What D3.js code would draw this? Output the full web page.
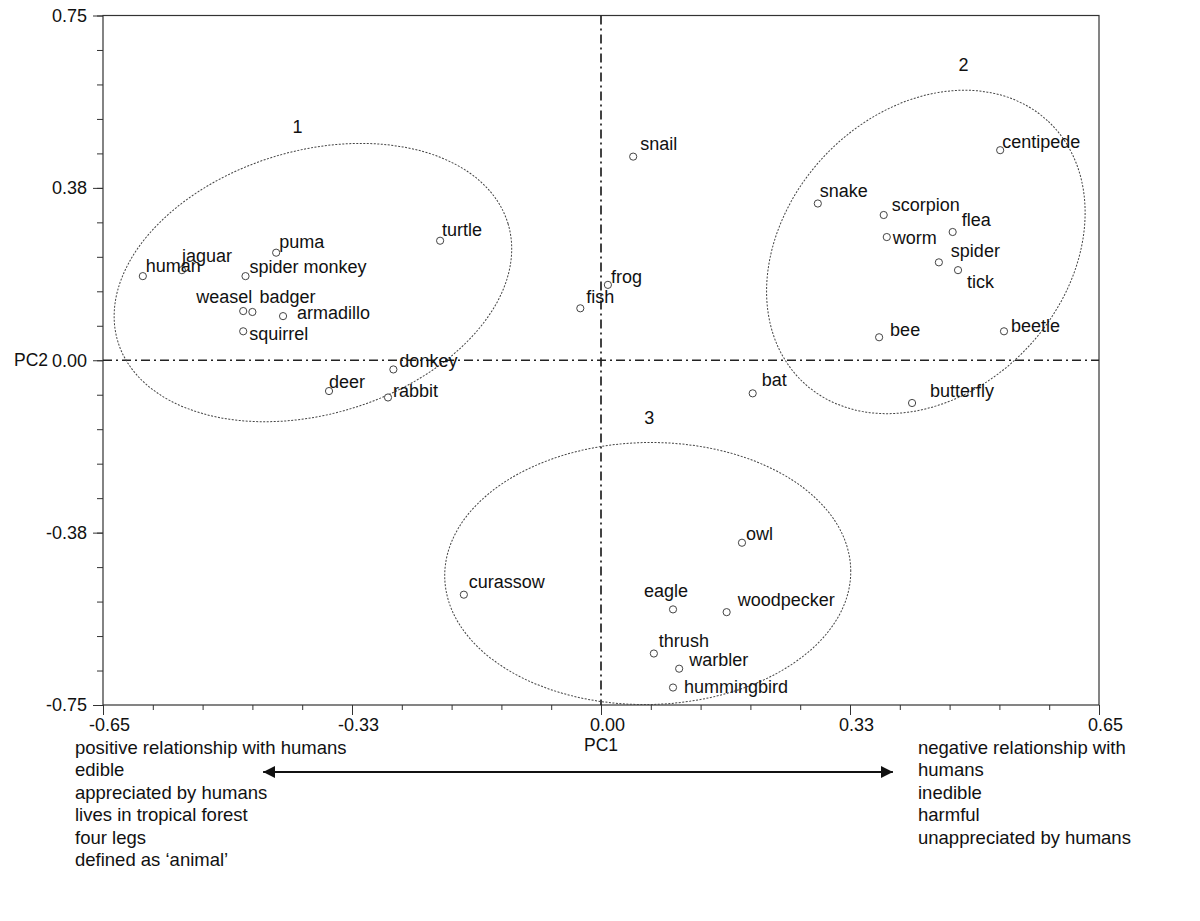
<!DOCTYPE html>
<html>
<head>
<meta charset="utf-8">
<script src="https://cdn.jsdelivr.net/npm/d3@7"></script>
<style>
  body { margin: 0; background: #fff; }
  text { font-family: "Liberation Sans", Arial, sans-serif; fill: #111; }
</style>
</head>
<body>
<div id="chart"></div>
<script>
// animals and their PCA scores
var animals = ["human","jaguar","puma","spider monkey","weasel","badger","armadillo","squirrel",
  "donkey","deer","rabbit","turtle","snail","frog","fish","centipede","snake","scorpion","worm",
  "flea","spider","tick","bee","beetle","butterfly","bat","curassow","owl","eagle","woodpecker",
  "thrush","warbler","hummingbird"];
var pc1 = [-0.598,-0.547,-0.424,-0.464,-0.467,-0.455,-0.415,-0.467,
  -0.271,-0.355,-0.278,-0.210,0.042,0.009,-0.027,0.521,0.283,0.369,0.373,
  0.459,0.441,0.466,0.363,0.526,0.406,0.198,-0.179,0.184,0.094,0.164,
  0.069,0.102,0.094];
var pc2 = [0.183,0.196,0.234,0.183,0.107,0.105,0.096,0.063,
  -0.020,-0.067,-0.081,0.260,0.443,0.164,0.113,0.457,0.341,0.316,0.268,
  0.279,0.213,0.196,0.050,0.063,-0.093,-0.072,-0.510,-0.397,-0.542,-0.548,
  -0.638,-0.671,-0.712];

var xTickValues = [-0.65,-0.325,0,0.325,0.65];
var xTickLabels = ["-0.65","-0.33","0.00","0.33","0.65"];
var yTickValues = [0.75,0.375,0,-0.375,-0.75];
var yTickLabels = ["0.75","0.38","0.00","-0.38","-0.75"];

// cluster ellipses: centre and radii in data units, tilt in degrees
var clusterNames = ["1","2","3"];
var clusterCx = [-0.376,0.424,0.061];
var clusterCy = [0.169,0.2356,-0.464];
var clusterRx = [0.266,0.2336,0.265];
var clusterRy = [0.2865,0.3037,0.285];
var clusterTilt = [-16.8,-46.8,-1];
var clusterLabelX = [-0.396,0.473,0.063];
var clusterLabelY = [0.494,0.629,-0.138];

var leftNotes = ["positive relationship with humans","edible","appreciated by humans",
  "lives in tropical forest","four legs","defined as \u2018animal\u2019"];
var rightNotes = ["negative relationship with","humans","inedible","harmful","unappreciated by humans"];

// label nudges (px) from the point
var nudge = {
  "human":[3,-4],"jaguar":[0,-8],"puma":[3,-5],"spider monkey":[4,-3],"weasel":[9,-8,"end"],
  "badger":[7,-9],"armadillo":[14,3],"squirrel":[6,9],"donkey":[6,-2],"deer":[0,-3],
  "rabbit":[5,0],"turtle":[2,-5],"snail":[7,-7],"frog":[3,-2],"fish":[6,-5],
  "centipede":[2,-2],"snake":[2,-7],"scorpion":[8,-4],"worm":[6,7],"flea":[9,-6],
  "spider":[12,-5],"tick":[9,18],"bee":[11,-1],"beetle":[7,1],"butterfly":[18,-6],
  "bat":[9,-7],"curassow":[5,-7],"owl":[4,-3],"eagle":[-29,-12],"woodpecker":[11,-6],
  "thrush":[5,-7],"warbler":[10,-3],"hummingbird":[11,5]
};

var width = 1200, height = 921;
var mLeft = 103, mRight = 1099, mTop = 15.5, mBottom = 705;

var svg = d3.select("#chart").append("svg")
  .attr("width", width).attr("height", height);

var x = d3.scaleLinear().domain([-0.65, 0.65]).range([mLeft, mRight]);
var y = d3.scaleLinear().domain([-0.75, 0.75]).range([mBottom, mTop]);

var minorX = d3.range(21).map(function(i){ return -0.65 + i*0.065; });
var minorY = d3.range(21).map(function(i){ return -0.75 + i*0.075; });

// minor ticks
svg.append("g").attr("transform","translate(0,"+mBottom+")")
  .call(d3.axisBottom(x).tickValues(minorX).tickSize(5).tickFormat(""))
  .call(function(g){ g.select(".domain").remove(); });
svg.append("g").attr("transform","translate("+mLeft+",0)")
  .call(d3.axisLeft(y).tickValues(minorY).tickSize(6).tickFormat(""))
  .call(function(g){ g.select(".domain").remove(); });

// major ticks
var xAxis = svg.append("g").attr("transform","translate(0,"+mBottom+")")
  .call(d3.axisBottom(x).tickValues(xTickValues).tickSize(10).tickPadding(3)
    .tickFormat(function(d,i){ return xTickLabels[i]; }));
xAxis.select(".domain").remove();
xAxis.selectAll("text").attr("dx", 6).style("font-size","18px")
  .style("font-family","Liberation Sans, Arial, sans-serif").attr("fill","#111");

var yAxis = svg.append("g").attr("transform","translate("+mLeft+",0)")
  .call(d3.axisLeft(y).tickValues(yTickValues).tickSize(10).tickPadding(6)
    .tickFormat(function(d,i){ return yTickLabels[i]; }));
yAxis.select(".domain").remove();
yAxis.selectAll("text").style("font-size","18px")
  .style("font-family","Liberation Sans, Arial, sans-serif").attr("fill","#111");

svg.selectAll(".tick line").attr("stroke","#333");

// frame
svg.append("rect").attr("x",mLeft).attr("y",mTop)
  .attr("width",mRight-mLeft).attr("height",mBottom-mTop)
  .attr("fill","none").attr("stroke","#333").attr("stroke-width",1.2);

// zero lines
svg.append("line").attr("x1",x(-0.65)).attr("x2",x(0.65)).attr("y1",y(0)).attr("y2",y(0))
  .attr("stroke","#222").attr("stroke-width",1.7).attr("stroke-dasharray","9,4,2,4");
svg.append("line").attr("x1",x(0)).attr("x2",x(0)).attr("y1",y(0.75)).attr("y2",y(-0.75))
  .attr("stroke","#222").attr("stroke-width",1.7).attr("stroke-dasharray","9,4,2,4");

// axis titles
svg.append("text").attr("x",x(0)).attr("y",751).attr("text-anchor","middle")
  .style("font-size","17.5px").text("PC1");
svg.append("text").attr("x",48).attr("y",y(0)+6).attr("text-anchor","end")
  .style("font-size","17.5px").text("PC2");

// ellipses
clusterNames.forEach(function(n,i){
  var cx = x(clusterCx[i]), cy = y(clusterCy[i]);
  var rx = x(clusterRx[i]) - x(0), ry = y(0) - y(clusterRy[i]);
  svg.append("ellipse")
    .attr("transform","translate("+cx+","+cy+") rotate("+clusterTilt[i]+")")
    .attr("rx",rx).attr("ry",ry)
    .attr("fill","none").attr("stroke","#444").attr("stroke-width",1)
    .attr("stroke-dasharray","2,1.5");
});
svg.selectAll(".clabel").data(clusterNames).enter().append("text")
  .attr("x",function(d,i){ return x(clusterLabelX[i]); })
  .attr("y",function(d,i){ return y(clusterLabelY[i]); })
  .attr("text-anchor","middle").style("font-size","18px")
  .text(function(d){ return d; });

// points
var pts = animals.map(function(n,i){ return {name:n, pc1:pc1[i], pc2:pc2[i]}; });
svg.selectAll(".pt").data(pts).enter().append("circle")
  .attr("cx",function(d){ return x(d.pc1); })
  .attr("cy",function(d){ return y(d.pc2); })
  .attr("r",3.6).attr("fill","#fff").attr("stroke","#444").attr("stroke-width",1);

svg.selectAll(".lbl").data(pts).enter().append("text")
  .attr("x",function(d){ return x(d.pc1) + nudge[d.name][0]; })
  .attr("y",function(d){ return y(d.pc2) + nudge[d.name][1]; })
  .attr("text-anchor",function(d){ return nudge[d.name][2] || "start"; })
  .style("font-size","18px")
  .text(function(d){ return d.name; });

// bottom notes and arrow
svg.selectAll(".lnote").data(leftNotes).enter().append("text")
  .attr("x",75).attr("y",function(d,i){ return 754 + i*22.4; })
  .style("font-size","18.5px").text(function(d){ return d; });
svg.selectAll(".rnote").data(rightNotes).enter().append("text")
  .attr("x",918).attr("y",function(d,i){ return 754 + i*22.4; })
  .style("font-size","18.5px").text(function(d){ return d; });

var defs = svg.append("defs");
defs.append("marker").attr("id","ah").attr("viewBox","0 0 10 10")
  .attr("refX",10).attr("refY",5).attr("markerWidth",6).attr("markerHeight",6)
  .attr("orient","auto-start-reverse").attr("markerUnits","strokeWidth")
  .append("path").attr("d","M0,0 L10,5 L0,10 z").attr("fill","#111");
svg.append("line").attr("x1",x(-0.441)).attr("x2",x(0.381)).attr("y1",772).attr("y2",772)
  .attr("stroke","#111").attr("stroke-width",2)
  .attr("marker-start","url(#ah)").attr("marker-end","url(#ah)");
</script>
</body>
</html>
